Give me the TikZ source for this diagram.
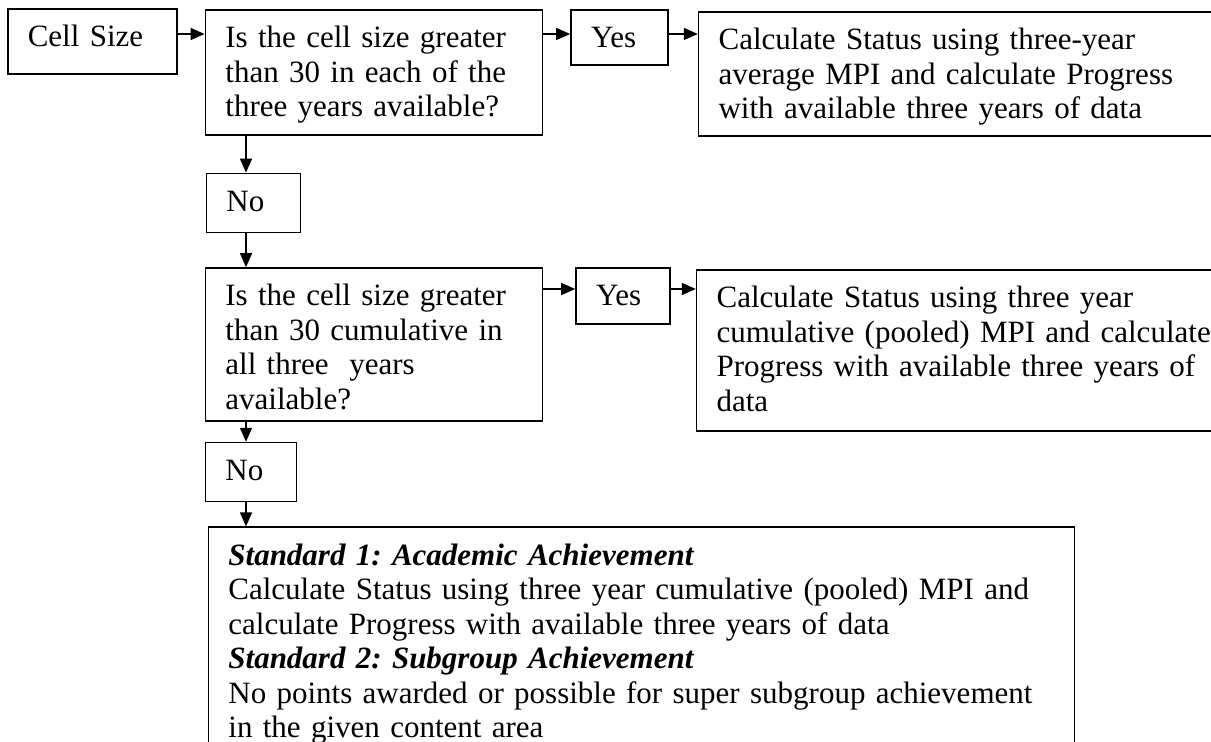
\documentclass[tikz,border=0pt]{standalone}
\usepackage{fontspec}
\setmainfont{Liberation Serif}
\usetikzlibrary{positioning,arrows.meta}
\frenchspacing

\begin{document}
\begin{tikzpicture}[>={Triangle[length=7pt,width=6pt]},
  flow box/.style={draw,line width=0.8pt,inner xsep=10pt,inner ysep=0pt,align=left,text height=19pt,font=\fontsize{15.5pt}{17.25pt}\selectfont}]
  \useasboundingbox (0,0) rectangle (605.5pt,-371pt);
  \clip (0,0) rectangle (605.5pt,-371pt);

  \node[flow box,anchor=north west,text width=64.5pt,text depth=13.5pt] (cell) at (3.5pt,-4pt) {Cell Size};
  \node[flow box,text width=148.5pt,text depth=43.5pt] (q1) [below right=0.5pt and 13.5pt of cell.north east] {Is the cell size greater\\than 30 in each of the\\three years available?};
  \node[flow box,text width=28.5pt,text depth=8.5pt] (yes1) [below right=0pt and 13.5pt of q1.north east] {Yes};
  \node[flow box,text width=300pt,text depth=43pt] (res1) [below right=1pt and 14.5pt of yes1.north east] {Calculate Status using three-year\\average MPI and calculate Progress\\with available three years of data};
  \node[flow box,text width=27pt,text depth=10.5pt] (no1) [below right=18.5pt and 0.5pt of q1.south west] {No};
  \node[flow box,text width=148.5pt,text depth=57.5pt] (q2) [below right=17pt and -0.5pt of no1.south west] {Is the cell size greater\\than 30 cumulative in\\all three~ years\\available?};
  \node[flow box,text width=27pt,text depth=9pt] (yes2) [below right=0pt and 16pt of q2.north east] {Yes};
  \node[flow box,text width=300pt,text depth=61.5pt] (res2) [below right=1pt and 12.5pt of yes2.north east] {Calculate Status using three year\\cumulative (pooled) MPI and calculate\\Progress with available three years of\\data};
  \node[flow box,text width=25.5pt,text depth=10.5pt] (no2) [below right=10pt and 0pt of q2.south west] {No};
  \node[flow box,text width=413pt,text depth=131pt] (std) [below right=12pt and 1.5pt of no2.south west] {\textbf{\textit{Standard 1: Academic Achievement}}\\Calculate Status using three year cumulative (pooled) MPI and\\calculate Progress with available three years of data\\\textbf{\textit{Standard 2: Subgroup Achievement}}\\No points awarded or possible for super subgroup achievement\\in the given content area};

  \coordinate (row1) at (0,-17pt);
  \coordinate (row2) at (0,-144.5pt);
  \coordinate (col) at (123pt,0);

  \path[->,line width=0.7pt]
    (cell.east |- row1) edge (q1.west |- row1)
    (q1.east |- row1) edge (yes1.west |- row1)
    (yes1.east |- row1) edge (res1.west |- row1)
    (q2.east |- row2) edge (yes2.west |- row2)
    (yes2.east |- row2) edge (res2.west |- row2)
    (q1.south -| col) edge (no1.north -| col)
    (no1.south -| col) edge (q2.north -| col)
    (q2.south -| col) edge (no2.north -| col)
    (no2.south -| col) edge (std.north -| col)
    ;
\end{tikzpicture}
\end{document}
